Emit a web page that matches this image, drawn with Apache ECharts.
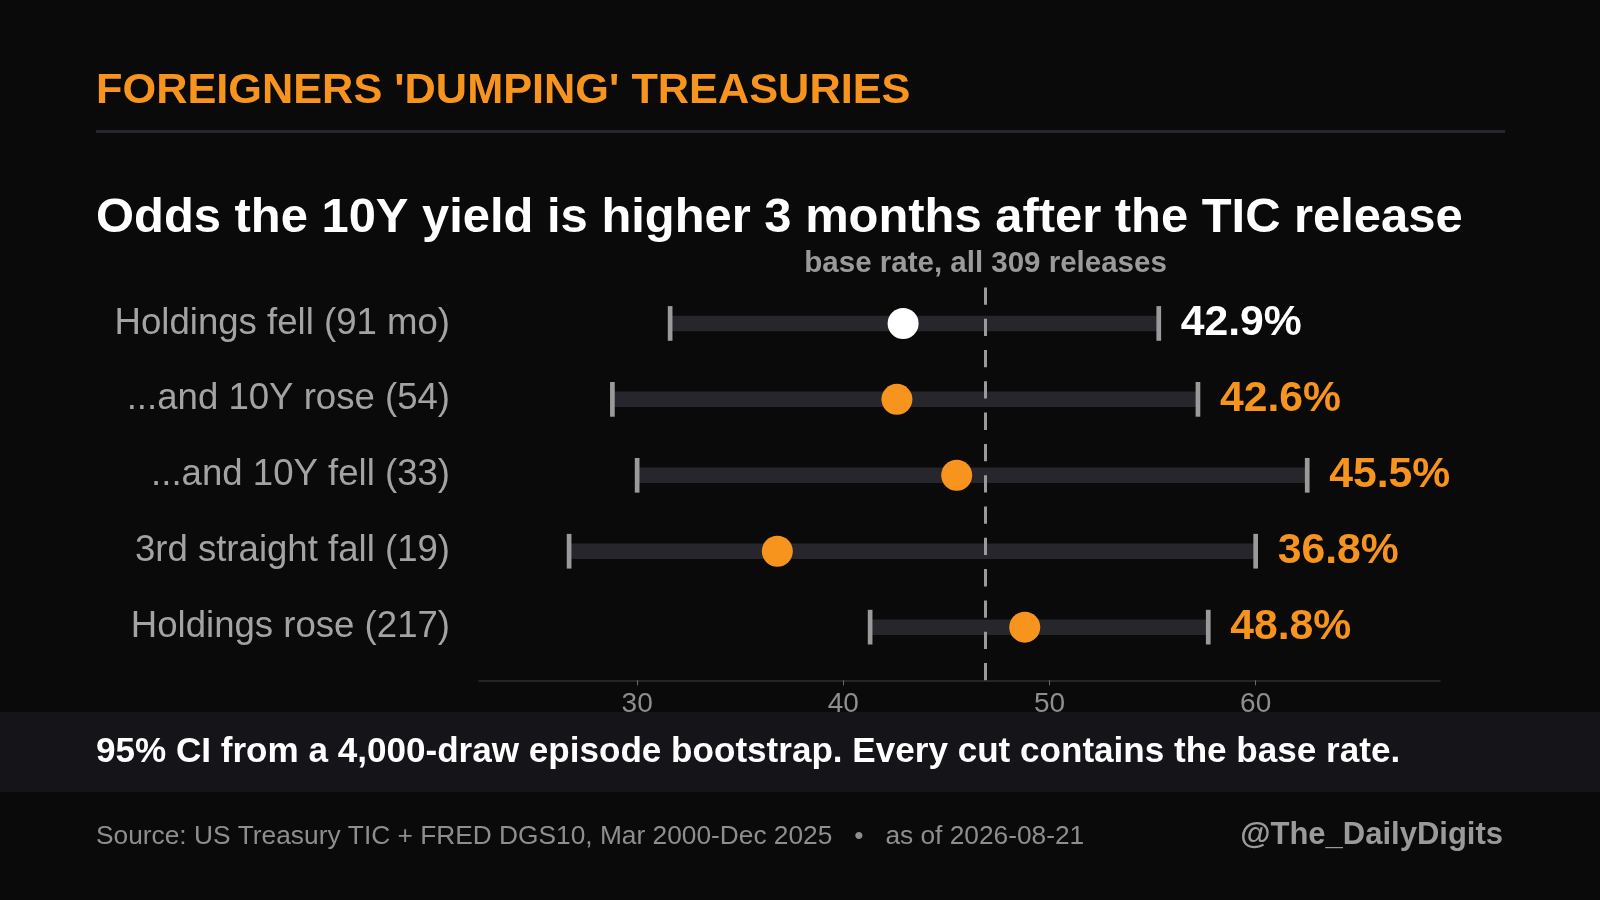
<!DOCTYPE html>
<html>
<head>
<meta charset="utf-8">
<title>Foreigners dumping Treasuries</title>
<script src="https://cdn.jsdelivr.net/npm/echarts@6/dist/echarts.min.js"></script>
<style>
  html, body { margin: 0; padding: 0; background: #0a0a0a; }
  #chart { width: 1600px; height: 900px; }
</style>
</head>
<body>
<div id="chart"></div>
<script>
// data
var categories = ['Holdings fell (91 mo)', '...and 10Y rose (54)', '...and 10Y fell (33)', '3rd straight fall (19)', 'Holdings rose (217)'];
var pointValues = [42.9, 42.6, 45.5, 36.8, 48.8];
var ciLow = [31.6, 28.8, 30.0, 26.7, 41.3];
var ciHigh = [55.3, 57.2, 62.5, 60.0, 57.7];
var baseRate = 46.9;
var baseLabel = 'base rate, all 309 releases';
var xTicks = [30, 40, 50, 60];

var FONT = '"Liberation Sans", Arial, Helvetica, sans-serif';
var ORANGE = '#f7941d';
var WHITE = '#ffffff';
var GREY = '#9a9a9a';
var BG = '#0a0a0a';

function rowColor(i) {
    return i === 0 ? WHITE : ORANGE;
}

var rowIdx = categories.map(function (c, i) { return i; });

var ciData = rowIdx.map(function (i) {
    return [ciLow[i], ciHigh[i], i, pointValues[i]];
});

var pointData = rowIdx.map(function (i) {
    return { value: [pointValues[i], i], itemStyle: { color: rowColor(i), opacity: 1 } };
});

function renderCI(params, api) {
    var row = api.value(2);
    var lo = api.coord([api.value(0), row]);
    var hi = api.coord([api.value(1), row]);
    var barH = 15.5, capW = 4.7, capH = 34.7;
    var color = rowColor(params.dataIndex);
    return {
        type: 'group',
        children: [
            { type: 'rect', shape: { x: lo[0], y: lo[1] - barH / 2, width: hi[0] - lo[0], height: barH },
              style: { fill: '#26262c' } },
            { type: 'rect', shape: { x: lo[0] - capW / 2, y: lo[1] - capH / 2, width: capW, height: capH },
              style: { fill: GREY } },
            { type: 'rect', shape: { x: hi[0] - capW / 2, y: hi[1] - capH / 2, width: capW, height: capH },
              style: { fill: GREY } },
            { type: 'text',
              style: { x: hi[0] + 22, y: hi[1], text: api.value(3).toFixed(1) + '%',
                       font: 'bold 42.7px ' + FONT, fill: color,
                       align: 'left', verticalAlign: 'middle',
                       textAlign: 'left', textVerticalAlign: 'middle' } }
        ]
    };
}

var chart = echarts.init(document.getElementById('chart'), null, { renderer: 'canvas' });

chart.setOption({
    backgroundColor: BG,
    animation: false,
    textStyle: { fontFamily: FONT },
    grid: { left: 479, right: 160, top: 270.3, bottom: 219.7, containLabel: false },
    xAxis: {
        type: 'value',
        min: 22.33,
        max: 68.94,
        splitLine: { show: false },
        axisLine: { show: true, onZero: false, lineStyle: { color: '#2e2e34', width: 1.5 } },
        axisTick: { show: true, customValues: xTicks, length: 5, lineStyle: { color: '#6a6a6a', width: 1 } },
        axisLabel: { customValues: xTicks, color: '#8e8e8e', fontSize: 28, margin: 10, fontFamily: FONT }
    },
    yAxis: {
        type: 'value',
        inverse: true,
        min: -0.7,
        max: 4.7,
        splitLine: { show: false },
        axisLine: { show: false },
        axisTick: { show: false },
        axisLabel: {
            customValues: rowIdx,
            margin: 29,
            color: '#a3a3a3',
            fontSize: 36.6,
            fontFamily: FONT,
            formatter: function (v) { return categories[Math.round(v)]; }
        }
    },
    series: [
        {
            type: 'line',
            data: [],
            z: 1,
            silent: true,
            markLine: {
                symbol: ['none', 'none'],
                silent: true,
                lineStyle: { color: GREY, width: 3, type: [17.3, 14] },
                label: {
                    show: true,
                    position: 'end',
                    formatter: baseLabel,
                    color: GREY,
                    fontSize: 29.5,
                    fontWeight: 'bold',
                    fontFamily: FONT,
                    backgroundColor: BG,
                    distance: -9
                },
                data: [[{ coord: [baseRate, 4.7] }, { coord: [baseRate, -0.7] }]]
            }
        },
        {
            type: 'custom',
            z: 2,
            renderItem: renderCI,
            data: ciData,
            encode: { x: [0, 1], y: 2 }
        },
        {
            type: 'scatter',
            z: 3,
            symbol: 'circle',
            symbolSize: 31,
            data: pointData
        }
    ],
    graphic: [
        { type: 'text', left: 96, top: 70,
          style: { text: "FOREIGNERS 'DUMPING' TREASURIES", font: 'bold 43.3px ' + FONT, fill: ORANGE } },
        { type: 'rect', shape: { x: 96, y: 130, width: 1409, height: 3 }, style: { fill: '#26262c' } },
        { type: 'text', left: 96, top: 194,
          style: { text: 'Odds the 10Y yield is higher 3 months after the TIC release', font: 'bold 48.9px ' + FONT, fill: WHITE } },
        { type: 'rect', shape: { x: 0, y: 712, width: 1600, height: 80 }, style: { fill: '#141419' }, z: -1 },
        { type: 'text', left: 96, top: 735,
          style: { text: '95% CI from a 4,000-draw episode bootstrap. Every cut contains the base rate.', font: 'bold 35.1px ' + FONT, fill: WHITE } },
        { type: 'text', left: 96, top: 824,
          style: { text: 'Source: US Treasury TIC + FRED DGS10, Mar 2000-Dec 2025   \u2022   as of 2026-08-21', font: '26.3px ' + FONT, fill: '#8e8e8e' } },
        { type: 'text', right: 97, top: 820,
          style: { text: '@The_DailyDigits', font: 'bold 31px ' + FONT, fill: GREY } }
    ]
});
</script>
</body>
</html>
